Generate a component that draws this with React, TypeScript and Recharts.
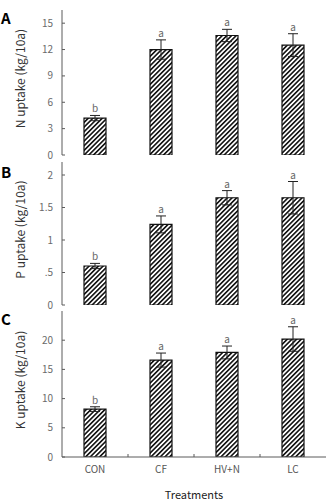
import React from 'react';
import {
  ComposedChart,
  Bar,
  Line,
  XAxis,
  YAxis,
  ErrorBar,
  LabelList,
} from 'recharts';

// Treatments on the shared category axis
const categories = ['CON', 'CF', 'HV+N', 'LC'];

// N uptake (kg/10a)
const nUptake = [4.2, 12.0, 13.6, 12.5];
const nError = [0.3, 1.1, 0.7, 1.3];
const nLetters = ['b', 'a', 'a', 'a'];
const nTicks = [0, 3, 6, 9, 12, 15];

// P uptake (kg/10a)
const pUptake = [0.6, 1.24, 1.65, 1.65];
const pError = [0.04, 0.13, 0.11, 0.25];
const pLetters = ['b', 'a', 'a', 'a'];
const pTicks = [0, 0.5, 1, 1.5, 2];
const pTickLabels = ['0', '.5', '1', '1.5', '2'];

// K uptake (kg/10a)
const kUptake = [8.2, 16.6, 17.9, 20.2];
const kError = [0.4, 1.2, 1.1, 2.1];
const kLetters = ['b', 'a', 'a', 'a'];
const kTicks = [0, 5, 10, 15, 20];

const FONT = '"Noto Sans CJK KR", "Noto Sans", sans-serif';
const WIDTH = 330;
const AXIS_W = 62;
const RIGHT = 4;
const BAND = (WIDTH - AXIS_W - RIGHT) / categories.length;
const FRAME = '#5a5a5a';

const build = (vals: number[], errs: number[], sig: string[]) =>
  categories.map((c, i) => ({
    cat: c,
    value: vals[i],
    err: errs[i],
    top: vals[i] + errs[i],
    sig: sig[i],
  }));

const YTick = (props: any) => {
  const { x, y, payload, labels, ticks } = props;
  const idx = ticks ? ticks.indexOf(payload.value) : -1;
  const text = labels && idx >= 0 ? labels[idx] : String(payload.value);
  return (
    <g>
      <line x1={x + 9} x2={x + 12} y1={y} y2={y} stroke={FRAME} strokeWidth={1} />
      <text
        x={x}
        y={y}
        dy={3.5}
        textAnchor="end"
        fill="#6a6a6a"
        fontSize={10}
        fontFamily={FONT}
      >
        {text}
      </text>
    </g>
  );
};

const XTick = (props: any) => {
  const { x, y, index, payload, showLabel } = props;
  return (
    <g>
      {index < categories.length - 1 && (
        <line
          x1={x + BAND / 2}
          x2={x + BAND / 2}
          y1={y}
          y2={y - 3}
          stroke={FRAME}
          strokeWidth={1}
        />
      )}
      {showLabel && (
        <text
          x={x}
          y={y}
          dy={16}
          textAnchor="middle"
          fill="#555"
          fontSize={10}
          fontFamily={FONT}
        >
          {payload.value}
        </text>
      )}
    </g>
  );
};

const YTitle = (text: string) => (props: any) => {
  const vb = props.viewBox || {};
  const cx = 19;
  const cy = vb.y + vb.height / 2 - 4;
  return (
    <text
      x={cx}
      y={cy}
      transform={`rotate(-90, ${cx}, ${cy})`}
      textAnchor="middle"
      dominantBaseline="central"
      fill="#333"
      fontSize={12}
      fontFamily={FONT}
    >
      {text}
    </text>
  );
};

type PanelProps = {
  data: any[];
  domain: [number, number];
  ticks: number[];
  tickLabels?: string[];
  title: string;
  height: number;
  margin: { top: number; bottom: number };
  showCategories?: boolean;
};

const Panel = ({
  data,
  domain,
  ticks,
  tickLabels,
  title,
  height,
  margin,
  showCategories,
}: PanelProps) => (
  <ComposedChart
    width={WIDTH}
    height={height}
    data={data}
    margin={{ top: margin.top, bottom: margin.bottom, left: 0, right: RIGHT }}
  >
    <defs>
      <pattern
        id="hatch"
        patternUnits="userSpaceOnUse"
        width={3.3}
        height={3.3}
        patternTransform="rotate(45)"
      >
        <rect width={3.3} height={3.3} fill="#fff" />
        <line x1={0.8} y1={0} x2={0.8} y2={3.3} stroke="#111" strokeWidth={1.6} />
      </pattern>
    </defs>
    <XAxis
      dataKey="cat"
      height={showCategories ? 44 : 0}
      tickSize={0}
      tickMargin={0}
      axisLine={{ stroke: FRAME, strokeWidth: 1 }}
      tickLine={false}
      interval={0}
      tick={<XTick showLabel={showCategories} />}
      label={
        showCategories
          ? {
              value: 'Treatments',
              position: 'insideBottom',
              offset: 2,
              fill: '#222',
              fontSize: 11,
              fontFamily: FONT,
            }
          : undefined
      }
    />
    <XAxis
      xAxisId="top"
      dataKey="cat"
      orientation="top"
      height={0}
      tick={false}
      tickLine={false}
      axisLine={{ stroke: FRAME, strokeWidth: 1 }}
    />
    <YAxis
      width={AXIS_W}
      domain={domain}
      ticks={ticks}
      interval={0}
      allowDataOverflow
      tickSize={0}
      tickMargin={9}
      tickLine={false}
      axisLine={{ stroke: FRAME, strokeWidth: 1 }}
      tick={<YTick labels={tickLabels} ticks={ticks} />}
      label={{ content: YTitle(title) }}
    />
    <YAxis
      yAxisId="right"
      orientation="right"
      width={0}
      domain={domain}
      tick={false}
      tickLine={false}
      axisLine={{ stroke: FRAME, strokeWidth: 1 }}
    />
    <Bar
      dataKey="value"
      barSize={22}
      fill="url(#hatch)"
      stroke="#111"
      strokeWidth={1.2}
      isAnimationActive={false}
    >
      <ErrorBar dataKey="err" width={5} stroke="#222" strokeWidth={1} direction="y" />
    </Bar>
    <Line
      dataKey="top"
      stroke="none"
      dot={false}
      activeDot={false}
      isAnimationActive={false}
    >
      <LabelList
        dataKey="sig"
        position="top"
        offset={3}
        fill="#666"
        fontSize={10}
        fontFamily={FONT}
      />
    </Line>
  </ComposedChart>
);

const letterStyle = (top: number): React.CSSProperties => ({
  position: 'absolute',
  left: 1,
  top,
  fontFamily: FONT,
  fontWeight: 700,
  fontSize: 15,
  lineHeight: '15px',
  color: '#000',
});

export default function App() {
  return (
    <div
      style={{
        position: 'absolute',
        left: 0,
        top: 0,
        width: WIDTH,
        height: 503,
        background: '#fff',
      }}
    >
      {/* let tick labels at a panel's bottom edge spill past its svg box */}
      <style>{'.recharts-surface { overflow: visible; }'}</style>
      <div style={{ position: 'absolute', left: 0, top: 0 }}>
        <Panel
          data={build(nUptake, nError, nLetters)}
          domain={[0, 16.5]}
          ticks={nTicks}
          title="N uptake (kg/10a)"
          height={158}
          margin={{ top: 10, bottom: 3 }}
        />
      </div>
      <div style={{ position: 'absolute', left: 0, top: 158 }}>
        <Panel
          data={build(pUptake, pError, pLetters)}
          domain={[0, 2.2]}
          ticks={pTicks}
          tickLabels={pTickLabels}
          title="P uptake (kg/10a)"
          height={150}
          margin={{ top: 4, bottom: 3 }}
        />
      </div>
      <div style={{ position: 'absolute', left: 0, top: 308 }}>
        <Panel
          data={build(kUptake, kError, kLetters)}
          domain={[0, 25]}
          ticks={kTicks}
          title="K uptake (kg/10a)"
          height={195}
          margin={{ top: 3, bottom: 2 }}
          showCategories
        />
      </div>
      <div style={letterStyle(10)}>A</div>
      <div style={letterStyle(164)}>B</div>
      <div style={letterStyle(311)}>C</div>
    </div>
  );
}
